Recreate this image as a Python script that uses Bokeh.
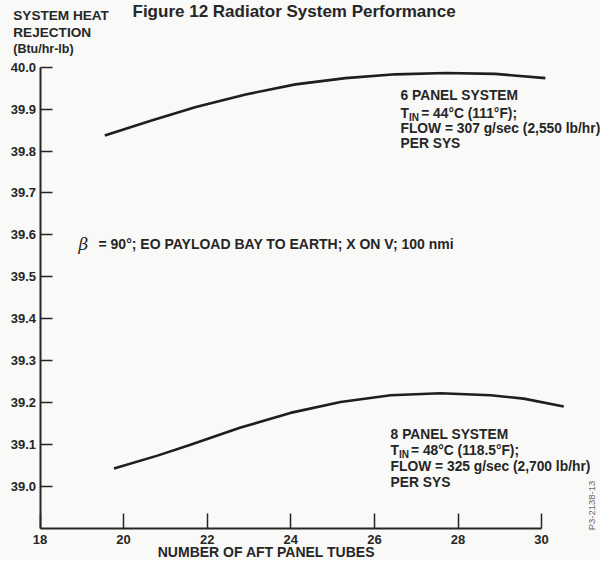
from math import pi
from bokeh.plotting import figure
from bokeh.models import Label, FixedTicker, NumeralTickFormatter, Range1d
from bokeh.embed import file_html
from bokeh.resources import INLINE

# ---- data ----
tubes_6panel = [19.55, 20.65, 21.73, 22.92, 24.11, 25.31, 26.50, 27.70, 28.89, 30.09]
heat_6panel = [39.837, 39.872, 39.905, 39.935, 39.959, 39.974, 39.983, 39.986, 39.984, 39.974]
tubes_8panel = [19.77, 20.81, 21.60, 22.80, 23.99, 25.19, 26.39, 27.58, 28.78, 29.57, 30.53]
heat_8panel = [39.042, 39.073, 39.099, 39.140, 39.175, 39.201, 39.217, 39.222, 39.217, 39.209, 39.190]
x_ticks = [18, 20, 22, 24, 26, 28, 30]
y_ticks = [39.0, 39.1, 39.2, 39.3, 39.4, 39.5, 39.6, 39.7, 39.8, 39.9, 40.0]
x_min, x_max = 18, 30
y_min, y_max = 38.9, 40.0

title_text = "Figure 12 Radiator System Performance"
y_title = ["SYSTEM HEAT", "REJECTION", "(Btu/hr-lb)"]
x_title = "NUMBER OF AFT PANEL TUBES"
note_6 = ["6 PANEL SYSTEM", "T", "IN", "= 44\u00b0C (111\u00b0F);", "FLOW = 307 g/sec (2,550 lb/hr)", "PER SYS"]
note_8 = ["8 PANEL SYSTEM", "T", "IN", "= 48\u00b0C (118.5\u00b0F);", "FLOW = 325 g/sec (2,700 lb/hr)", "PER SYS"]
beta_sym = "\u03b2"
beta_text = "= 90\u00b0; EO PAYLOAD BAY TO EARTH; X ON V; 100 nmi"
ref_code = "P3-2138-13"

FONT = "Liberation Sans"
INK = "#262626"
BG = "#f9f9f7"

# the frame fills the whole canvas; the axes sit at fixed data locations inside it
p = figure(width=600, height=560, output_backend="svg", toolbar_location=None,
           x_range=Range1d(17.055, 31.409), y_range=Range1d(38.8227, 40.1592),
           min_border=0, min_border_left=0, min_border_right=0,
           min_border_top=0, min_border_bottom=0,
           background_fill_color=BG, border_fill_color=BG)
p.outline_line_color = None
p.grid.visible = False

for ax in (p.xaxis[0], p.yaxis[0]):
    ax.axis_line_color = INK
    ax.major_tick_line_color = INK
    ax.major_tick_line_width = 1.5
    ax.major_tick_out = 0
    ax.minor_tick_line_color = None
    ax.major_label_text_font = FONT
    ax.major_label_text_font_style = "bold"
    ax.major_label_text_font_size = "13px"
    ax.major_label_text_color = INK

p.xaxis.ticker = FixedTicker(ticks=x_ticks)
p.xaxis.bounds = (x_min, x_max)
p.xaxis.fixed_location = y_min
p.xaxis.major_tick_in = 15
p.xaxis.axis_line_width = 2
p.xaxis.major_label_standoff = 7

p.yaxis.ticker = FixedTicker(ticks=y_ticks)
p.yaxis.formatter = NumeralTickFormatter(format="0.0")
p.yaxis.bounds = (y_min, y_max)
p.yaxis.fixed_location = x_min
p.yaxis.major_tick_in = 12
p.yaxis.axis_line_width = 2
p.yaxis.major_label_standoff = 4

p.line(tubes_6panel, heat_6panel, line_color="#1e1e1e", line_width=2.6)
p.line(tubes_8panel, heat_8panel, line_color="#1e1e1e", line_width=2.6)


def lab(x, y, text, size="13.8px", style="bold", align="left", baseline="middle",
        font=FONT, color=INK, angle=0):
    p.add_layout(Label(x=x, y=y, text=text, text_font=font, text_font_size=size,
                       text_font_style=style, text_align=align, text_baseline=baseline,
                       text_color=color, angle=angle))


# title and axis titles
lab(20.213, 40.133, title_text, size="17px")
lab(17.36, 40.123, y_title[0], size="13.6px")
lab(17.36, 40.083, y_title[1], size="13.6px")
lab(17.36, 40.043, y_title[2], size="12.5px")
lab(23.419, 38.842, x_title, size="14px", align="center")

# 6 panel annotation
lab(26.624, 39.932, note_6[0])
lab(26.624, 39.889, note_6[1])
lab(26.828, 39.879, note_6[2], size="10px")
lab(27.120, 39.889, note_6[3])
lab(26.624, 39.854, note_6[4])
lab(26.624, 39.818, note_6[5])

# 8 panel annotation
lab(26.388, 39.123, note_8[0])
lab(26.388, 39.085, note_8[1])
lab(26.589, 39.075, note_8[2], size="10px")
lab(26.876, 39.085, note_8[3])
lab(26.388, 39.047, note_8[4])
lab(26.388, 39.009, note_8[5])

# condition note
lab(18.921, 39.579, beta_sym, size="17px", style="italic", font="DejaVu Serif")
lab(19.400, 39.579, beta_text, size="14px")

# reference code, rotated
lab(31.19, 38.954, ref_code, size="9.5px", style="normal", align="center", color="#6b6b6b", angle=pi / 2)

open("out.html", "w").write(file_html(p, INLINE))
